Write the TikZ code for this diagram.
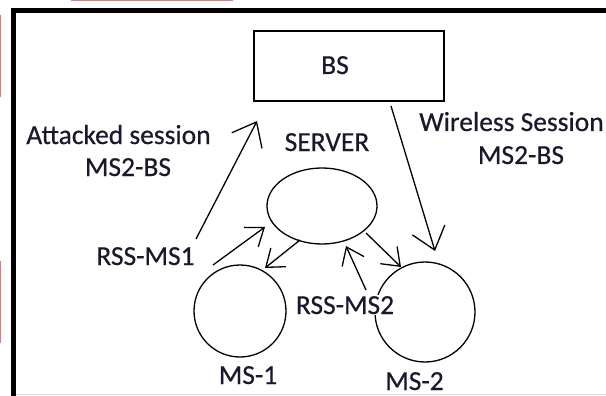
\documentclass[tikz,border=0pt]{standalone}
\usepackage{fontspec}
\setmainfont{Carlito}
\newfontfamily\lblfont{Carlito}[FakeBold=0.5]
\usetikzlibrary{arrows.meta,shapes.geometric}
\definecolor{txt}{RGB}{25,25,45}
\definecolor{redmark}{RGB}{225,120,120}
\begin{document}
\begin{tikzpicture}[x=1pt,y=-1pt,
  lbl/.style={font=\lblfont\fontsize{27.5}{30}\selectfont, text=txt, inner sep=0pt, anchor=base},
  shp/.style={draw, line width=1.3pt, inner sep=0pt},
  bigarr/.style={line width=1.3pt, -{Straight Barb[length=21pt,width=34pt]}},
  smallarr/.style={line width=1.3pt, -{Straight Barb[length=16pt,width=24pt]}},
]
\useasboundingbox (0,0) rectangle (606,396);
\fill[white] (0,0) rectangle (606,396);
% frame
\draw[line width=5pt] (13.5,396) -- (13.5,10.5) -- (606,10.5);
\draw[black!12, line width=1pt] (16,394.5) -- (606,394.5);
% red marks at the edges
\draw[redmark, line width=1.5pt] (71,0.5) -- (233,0.5);
\draw[redmark, line width=1.5pt] (0.5,15) -- (0.5,97);
\draw[redmark, line width=1.5pt] (0.5,261) -- (0.5,343);
% shapes
\node[shp, minimum width=190pt, minimum height=70pt] (bs) at (349,66) {};
\node[shp, ellipse, minimum width=110pt, minimum height=76pt] (server) at (322,206) {};
\node[shp, circle, minimum size=92pt] (ms1) at (240,311) {};
\node[shp, circle, minimum size=100pt] (ms2) at (425,312) {};
% labels
\node[lbl] (bstext) at (335,74) {BS};
\node[lbl] (att1) at (118.5,144) {Attacked session};
\node[lbl] (att2) at (128,176) {MS2-BS};
\node[lbl] (srvtext) at (327,151) {SERVER};
\node[lbl] (wl1) at (511.5,131) {Wireless Session};
\node[lbl] (wl2) at (521,164) {MS2-BS};
\node[lbl] (rss1) at (145.5,265) {RSS-MS1};
\node[lbl, fill=white, inner xsep=1pt, inner ysep=1pt] (rss2) at (345,314) {RSS-MS2};
\node[lbl] (ms1text) at (248,384) {MS-1};
\node[lbl] (ms2text) at (414.5,390) {MS-2};
% connector end points
\coordinate (a1s) at (196,239);
\coordinate (a1e) at (257,121);
\coordinate (a2s) at (391,106);
\coordinate (a2e) at (435,251);
\coordinate (a3s) at (213,265);
\coordinate (a3e) at (265,227);
\coordinate (a4s) at (300,240);
\coordinate (a4e) at (265,268);
\coordinate (a5s) at (366,233);
\coordinate (a5e) at (401,267);
\coordinate (a6s) at (366,290);
\coordinate (a6e) at (346,246);
% connectors
\draw[bigarr] (a1s) -- (a1e);
\draw[bigarr] (a2s) -- (a2e);
\draw[smallarr] (a3s) -- (a3e);
\draw[smallarr] (a4s) -- (a4e);
\draw[smallarr] (a5s) -- (a5e);
\draw[smallarr] (a6s) -- (a6e);
\end{tikzpicture}
\end{document}
